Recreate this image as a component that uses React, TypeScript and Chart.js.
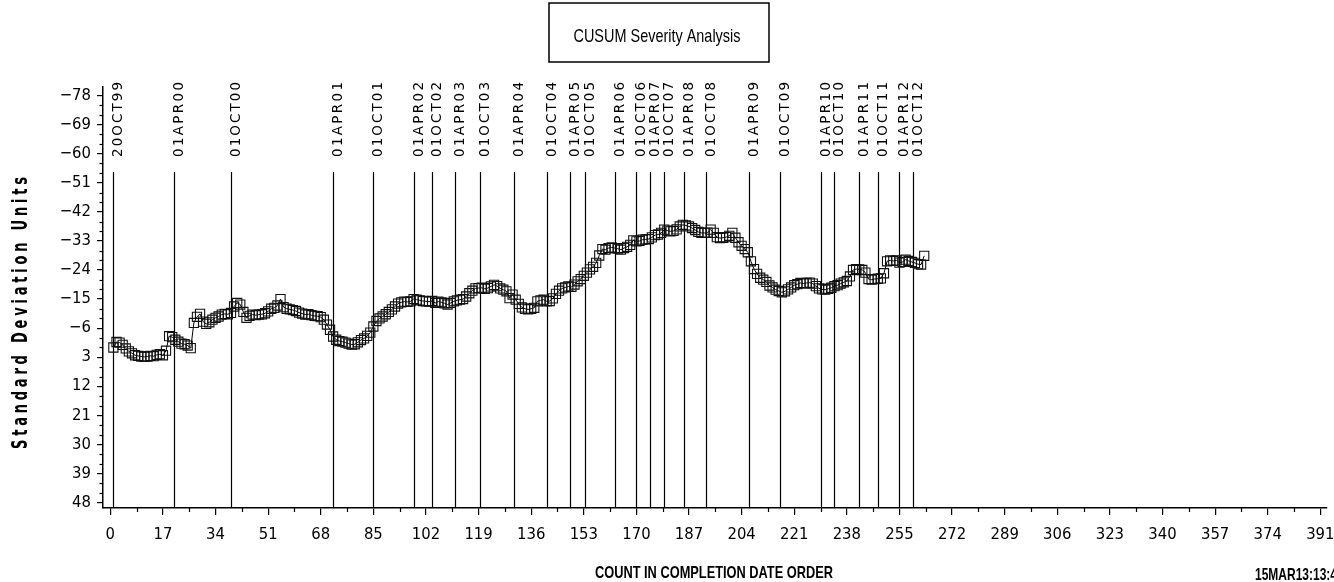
import React, { useEffect, useRef } from 'react';
import { Chart, registerables } from 'chart.js';

Chart.register(...registerables);

// ---- DATA ----
const cusumValues: number[] = [
  0.0, -1.7, -1.5, -0.8, 0.3, 1.2, 1.8, 2.4, 2.6, 2.8,
  2.9, 2.8, 2.6, 2.7, 2.3, 2.1, 2.4, 1.0, -3.5, -3.2,
  -2.4, -1.8, -1.2, -1.0, -0.6, 0.2, -7.6, -9.5, -10.4, -8.0,
  -7.3, -7.8, -8.6, -9.2, -9.6, -10.2, -10.4, -10.3, -10.7, -12.7,
  -13.8, -13.3, -11.0, -9.2, -9.8, -10.2, -10.0, -10.2, -10.3, -10.6,
  -11.2, -12.0, -12.3, -13.0, -15.0, -12.5, -12.0, -11.8, -11.6, -11.3,
  -10.8, -10.5, -10.2, -10.3, -10.0, -9.8, -9.7, -9.4, -8.6, -7.1,
  -5.5, -3.4, -2.4, -2.0, -1.8, -1.5, -1.2, -0.9, -1.0, -1.6,
  -2.3, -2.8, -3.6, -4.6, -6.5, -8.2, -9.0, -9.6, -10.3, -11.0,
  -11.8, -12.7, -13.6, -14.0, -14.2, -14.1, -14.3, -15.0, -14.8, -14.6,
  -14.4, -14.3, -14.2, -14.4, -13.8, -14.2, -14.0, -13.7, -13.3, -13.8,
  -14.3, -14.6, -14.8, -15.0, -15.8, -16.8, -17.6, -18.3, -18.4, -18.5,
  -18.2, -18.4, -18.9, -19.4, -19.0, -18.3, -17.9, -17.4, -15.3, -16.4,
  -14.8, -13.5, -12.4, -12.0, -11.8, -12.0, -12.3, -14.3, -14.6, -14.8,
  -14.3, -14.4, -15.2, -16.6, -17.6, -18.3, -18.6, -18.9, -18.8, -19.5,
  -20.5, -21.2, -22.2, -23.2, -24.2, -25.0, -26.2, -28.5, -30.5, -30.3,
  -30.8, -31.0, -30.8, -30.6, -30.3, -30.8, -31.2, -31.8, -33.2, -32.9,
  -33.0, -33.4, -33.5, -33.6, -34.1, -34.8, -35.0, -35.5, -36.5, -36.2,
  -36.0, -36.1, -36.6, -37.5, -38.0, -37.8, -37.5, -37.0, -36.4, -35.8,
  -35.5, -35.5, -35.6, -36.5, -35.5, -34.2, -33.9, -34.0, -34.2, -34.6,
  -35.5, -34.0, -32.6, -31.5, -30.5, -29.5, -26.7, -24.3, -22.8, -21.6,
  -21.0, -20.3, -19.2, -18.6, -17.9, -17.5, -17.1, -17.4, -18.0, -18.6,
  -19.3, -19.6, -20.0, -19.8, -20.0, -20.1, -19.8, -19.0, -18.3, -18.0,
  -17.9, -18.2, -18.5, -19.0, -19.3, -19.8, -20.2, -20.6, -22.0, -24.0,
  -24.3, -24.2, -24.0, -23.2, -21.2, -21.0, -21.2, -21.3, -21.4, -23.0,
  -26.7, -27.0, -26.8, -27.0, -26.3, -26.5, -27.2, -26.8, -26.5, -26.2,
  -25.8, -25.7, -28.4,
];

const xTickValues: number[] = [0, 17, 34, 51, 68, 85, 102, 119, 136, 153, 170, 187, 204, 221, 238, 255, 272, 289, 306, 323, 340, 357, 374, 391];
const yTickValues: number[] = [-78, -69, -60, -51, -42, -33, -24, -15, -6, 3, 12, 21, 30, 39, 48];
const yTickLabels: string[] = ['\u221278', '\u221269', '\u221260', '\u221251', '\u221242', '\u221233', '\u221224', '\u221215', '\u22126', '3', '12', '21', '30', '39', '48'];

const refDates: string[] = [
  '20OCT99', '01APR00', '01OCT00', '01APR01', '01OCT01', '01APR02', '01OCT02', '01APR03', '01OCT03',
  '01APR04', '01OCT04', '01APR05', '01OCT05', '01APR06', '01OCT06', '01APR07', '01OCT07', '01APR08',
  '01OCT08', '01APR09', '01OCT09', '01APR10', '01OCT10', '01APR11', '01OCT11', '01APR12', '01OCT12',
];
const refCounts: number[] = [
  1, 20.5, 39, 72, 85, 98, 104, 111.5, 119.5,
  130.5, 141, 148.5, 153.5, 163, 170, 174.5, 179, 185.5,
  192.5, 206.5, 216.5, 229.5, 234, 242, 248, 255, 259.5,
];

const chartTitle = 'CUSUM Severity Analysis';
const xAxisTitle = 'COUNT IN COMPLETION DATE ORDER';
const yAxisTitle = 'Standard Deviation Units';
const stampText = '15MAR13:13:4';

// ---- drawing helpers ----
function drawFitted(ctx: CanvasRenderingContext2D, text: string, font: string, x: number, y: number, width: number, align: CanvasTextAlign) {
  ctx.save();
  ctx.font = font;
  const w = ctx.measureText(text).width;
  const s = width / w;
  ctx.translate(x, y);
  ctx.scale(s, 1);
  ctx.textAlign = align;
  ctx.textBaseline = 'alphabetic';
  ctx.fillStyle = '#000';
  ctx.fillText(text, 0, 0);
  ctx.restore();
}

function drawSpacedUp(ctx: CanvasRenderingContext2D, text: string, font: string, x: number, yBottom: number, length: number, hscale: number) {
  ctx.save();
  ctx.translate(x, yBottom);
  ctx.rotate(-Math.PI / 2);
  ctx.font = font;
  ctx.textAlign = 'left';
  ctx.textBaseline = 'alphabetic';
  ctx.fillStyle = '#000';
  const chars = Array.from(text);
  const widths = chars.map((c) => ctx.measureText(c).width * hscale);
  const sum = widths.reduce((a, b) => a + b, 0);
  const gap = chars.length > 1 ? (length - sum) / (chars.length - 1) : 0;
  let pos = 0;
  chars.forEach((c, i) => {
    ctx.save();
    ctx.translate(pos, 0);
    ctx.scale(hscale, 1);
    ctx.fillText(c, 0, 0);
    ctx.restore();
    pos += widths[i] + gap;
  });
  ctx.restore();
}

const decorPlugin = {
  id: 'decor',
  beforeDatasetsDraw(chart: any) {
    const { ctx, chartArea, scales } = chart;
    const xs = scales.x;
    ctx.save();
    ctx.strokeStyle = '#000';
    ctx.lineWidth = 1.2;
    refCounts.forEach((c) => {
      const px = Math.round(xs.getPixelForValue(c)) + 0.5;
      ctx.beginPath();
      ctx.moveTo(px, 172);
      ctx.lineTo(px, chartArea.bottom);
      ctx.stroke();
    });
    ctx.restore();
  },
  afterDraw(chart: any) {
    const { ctx, chartArea, scales } = chart;
    const xs = scales.x;
    const ys = scales.y;
    ctx.save();
    ctx.strokeStyle = '#000';
    ctx.lineWidth = 1.2;
    for (let i = 0; i < xTickValues.length - 1; i++) {
      const v = (xTickValues[i] + xTickValues[i + 1]) / 2;
      const px = Math.round(xs.getPixelForValue(v)) + 0.5;
      ctx.beginPath();
      ctx.moveTo(px, chartArea.bottom);
      ctx.lineTo(px, chartArea.bottom + 4);
      ctx.stroke();
    }
    for (let i = 0; i < yTickValues.length - 1; i++) {
      const a = yTickValues[i];
      const b = yTickValues[i + 1];
      [a + (b - a) / 3, a + (2 * (b - a)) / 3].forEach((v) => {
        const py = Math.round(ys.getPixelForValue(v)) + 0.5;
        ctx.beginPath();
        ctx.moveTo(chartArea.left, py);
        ctx.lineTo(chartArea.left - 3.5, py);
        ctx.stroke();
      });
    }
    ctx.restore();

    refCounts.forEach((c, i) => {
      const px = Math.round(xs.getPixelForValue(c)) + 0.5;
      drawSpacedUp(ctx, refDates[i], '13.5px "DejaVu Sans"', px + 8, 157, 75, 1);
    });

    ctx.save();
    ctx.strokeStyle = '#000';
    ctx.lineWidth = 1.5;
    ctx.strokeRect(549, 3, 220, 59);
    ctx.restore();
    drawFitted(ctx, chartTitle, '19px "Liberation Sans"', 657, 41.5, 167, 'center');

    drawFitted(ctx, xAxisTitle, 'bold 17px "Liberation Sans"', 714, 578, 238, 'center');
    drawSpacedUp(ctx, yAxisTitle, 'bold 21px "DejaVu Sans"', 27, 449, 272, 0.62);
    drawFitted(ctx, stampText, 'bold 17px "Liberation Sans"', 1255, 580, 82, 'left');
  },
};

export default function App() {
  const canvasRef = useRef<HTMLCanvasElement | null>(null);

  useEffect(() => {
    const canvas = canvasRef.current;
    if (!canvas) return;
    const points = cusumValues.map((v, i) => ({ x: i + 1, y: v }));
    const tickFont = { family: "'Liberation Sans Narrow', 'DejaVu Sans Condensed', 'Liberation Sans', sans-serif", size: 16.5 };
    const chart = new Chart(canvas, {
      type: 'scatter',
      data: {
        datasets: [
          {
            data: points,
            showLine: true,
            borderColor: '#000',
            borderWidth: 1,
            pointStyle: 'rect',
            pointRadius: 6.5,
            pointBorderWidth: 1.1,
            pointBorderColor: '#111',
            pointBackgroundColor: 'rgba(0,0,0,0)',
            tension: 0,
          },
        ],
      },
      options: {
        animation: false,
        responsive: false,
        devicePixelRatio: 1,
        layout: { padding: { top: 87, right: 7, left: 0, bottom: 0 } },
        plugins: {
          legend: { display: false },
          tooltip: { enabled: false },
        },
        scales: {
          x: {
            type: 'linear',
            min: -2.36,
            max: 392.96,
            afterBuildTicks: (scale: any) => {
              scale.ticks = xTickValues.map((v) => ({ value: v }));
            },
            afterFit: (scale: any) => {
              scale.height = 74;
              scale.paddingLeft = 0;
              scale.paddingRight = 0;
            },
            ticks: {
              autoSkip: false,
              maxRotation: 0,
              color: '#000',
              padding: 10,
              font: tickFont,
              callback: (_v: any, i: number) => String(xTickValues[i]),
            },
            grid: {
              display: true,
              drawOnChartArea: false,
              drawTicks: true,
              tickLength: 7,
              color: '#000',
              lineWidth: 1.2,
            },
            border: { display: true, color: '#000', width: 1.5 },
          },
          y: {
            type: 'linear',
            reverse: true,
            min: -80.7,
            max: 49.73,
            afterBuildTicks: (scale: any) => {
              scale.ticks = yTickValues.map((v) => ({ value: v }));
            },
            afterFit: (scale: any) => {
              scale.width = 103;
              scale.paddingTop = 0;
              scale.paddingBottom = 0;
            },
            ticks: {
              autoSkip: false,
              color: '#000',
              padding: 6,
              font: tickFont,
              callback: (_v: any, i: number) => yTickLabels[i],
            },
            grid: {
              display: true,
              drawOnChartArea: false,
              drawTicks: true,
              tickLength: 6,
              color: '#000',
              lineWidth: 1.2,
            },
            border: { display: true, color: '#000', width: 1.5 },
          },
        },
      },
      plugins: [decorPlugin],
    } as any);
    return () => {
      chart.destroy();
    };
  }, []);

  return (
    <div style={{ position: 'fixed', left: 0, top: 0, width: 1334, height: 582, background: '#fff' }}>
      <canvas ref={canvasRef} width={1334} height={582} style={{ display: 'block', width: 1334, height: 582 }} />
    </div>
  );
}
